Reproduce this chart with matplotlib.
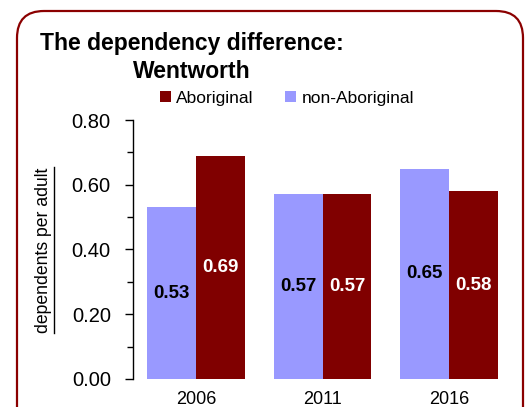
import matplotlib
matplotlib.use('Agg')
import matplotlib.pyplot as plt
import numpy as np
from matplotlib.patches import FancyBboxPatch
from matplotlib.lines import Line2D
from matplotlib.ticker import MultipleLocator

plt.rcParams['font.family'] = ['Liberation Sans', 'DejaVu Sans']

years = ['2006', '2011', '2016']
non_aboriginal = [0.53, 0.57, 0.65]
aboriginal = [0.69, 0.57, 0.58]

col_non = '#9999ff'
col_abo = '#800000'

fig = plt.figure(figsize=(5.31, 4.07), dpi=100)
ax = fig.add_axes([133/531, 28/407, 379/531, 259/407])

x = np.arange(len(years))
w = 0.387
b1 = ax.bar(x - w/2, non_aboriginal, w, color=col_non, label='non-Aboriginal')
b2 = ax.bar(x + w/2, aboriginal, w, color=col_abo, label='Aboriginal')

ax.bar_label(b1, fmt='%.2f', label_type='center', color='black',
             fontweight='bold', fontsize=13.5)
ax.bar_label(b2, fmt='%.2f', label_type='center', color='white',
             fontweight='bold', fontsize=13.5)

ax.set_xlim(-0.5, 2.5)
ax.set_ylim(0, 0.8)
ax.yaxis.set_major_locator(MultipleLocator(0.2))
ax.yaxis.set_minor_locator(MultipleLocator(0.1))
ax.yaxis.set_major_formatter(lambda v, p: '%.2f' % v)
ax.set_xticks(x)
ax.set_xticklabels(years)
ax.tick_params(axis='y', which='major', length=6, width=1, pad=10, labelsize=14.5)
ax.tick_params(axis='y', which='minor', length=4, width=1)
ax.tick_params(axis='x', length=0, pad=9, labelsize=13)
for s in ['top', 'right', 'bottom']:
    ax.spines[s].set_visible(False)
ax.spines['left'].set_linewidth(1)

fig.text(192/531, 1 - 50/407, 'The dependency difference:', ha='center',
         va='baseline', fontsize=16.5, fontweight='bold')
fig.text(192/531, 1 - 78/407, 'Wentworth', ha='center',
         va='baseline', fontsize=16.5, fontweight='bold')

fig.legend(handles=[b2, b1], labels=['Aboriginal', 'non-Aboriginal'],
           loc='center', bbox_to_anchor=(287/531, 1 - 98/407), ncol=2,
           frameon=False, fontsize=12.5, handlelength=0.65, handleheight=0.65,
           handletextpad=0.3, columnspacing=1.8)

ylab = fig.text(44/531, 1 - 250/407, 'dependents per adult', rotation=90,
                ha='center', va='center', fontsize=12.7)
fig.canvas.draw()
bb = ylab.get_window_extent().transformed(fig.transFigure.inverted())
fig.add_artist(Line2D([bb.x1 + 0.002, bb.x1 + 0.002], [bb.y0, bb.y1],
                      transform=fig.transFigure, color='black', lw=1))

frame = FancyBboxPatch((0.17, -0.4), 5.06, 4.07 - 0.11 + 0.4,
                       boxstyle='round,pad=0,rounding_size=0.27',
                       transform=fig.dpi_scale_trans, fill=False,
                       edgecolor='#8b0000', linewidth=1.6, clip_on=False)
fig.add_artist(frame)

fig.savefig('out.png', dpi=100)
